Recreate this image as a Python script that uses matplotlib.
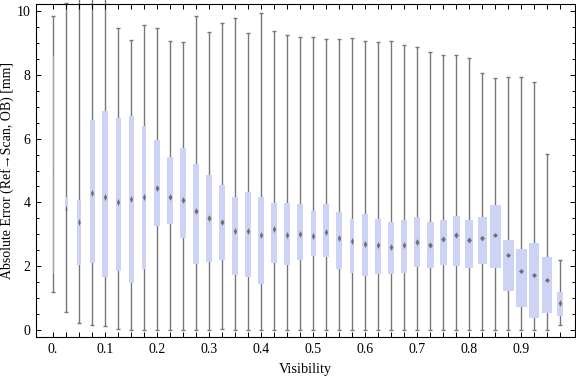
import numpy as np
import matplotlib
matplotlib.use('Agg')
import matplotlib.pyplot as plt
from matplotlib.path import Path

plt.rcParams['font.family'] = ['Liberation Serif', 'DejaVu Serif']

# Box positions (visibility bins)
visibility = [0.0, 0.025, 0.05, 0.075, 0.1, 0.125, 0.15, 0.175, 0.2, 0.225,
              0.25, 0.275, 0.3, 0.325, 0.35, 0.375, 0.4, 0.425, 0.45, 0.475,
              0.5, 0.525, 0.55, 0.575, 0.6, 0.625, 0.65, 0.675, 0.7, 0.725,
              0.75, 0.775, 0.8, 0.825, 0.85, 0.875, 0.9, 0.925, 0.95, 0.975]

# Box-whisker statistics (mm)
whisker_lo = [1.19, 0.56, 0.21, 0.16, 0.13, 0.02, 0.0, 0.0, 0.0, 0.0,
              0.0, 0.0, 0.0, 0.03, 0.0, 0.0, 0.0, 0.0, 0.0, 0.0,
              0.0, 0.0, 0.0, 0.0, 0.0, 0.0, 0.0, 0.0, 0.0, 0.0,
              0.0, 0.0, 0.0, 0.0, 0.0, 0.0, 0.0, 0.0, 0.0, 0.16]
q1 = [1.78, 3.87, 2.03, 2.11, 1.67, 1.86, 1.48, 1.90, 3.27, 3.33,
      2.89, 2.08, 2.14, 2.18, 1.73, 1.67, 1.45, 2.09, 2.03, 2.18,
      2.33, 2.29, 1.90, 1.80, 1.70, 1.76, 1.76, 1.80, 1.97, 1.95,
      2.05, 2.02, 1.95, 2.08, 1.95, 1.23, 0.73, 0.39, 0.54, 0.45]
median = [5.00, 3.78, 3.38, 4.28, 4.18, 4.02, 4.11, 4.18, 4.46, 4.16,
          4.08, 3.73, 3.50, 3.38, 3.09, 3.10, 2.97, 3.18, 2.99, 3.01,
          2.94, 3.08, 2.88, 2.79, 2.70, 2.65, 2.59, 2.65, 2.75, 2.65,
          2.84, 2.97, 2.82, 2.88, 2.97, 2.34, 1.84, 1.73, 1.57, 0.86]
q3 = [8.60, 4.16, 4.08, 6.58, 6.86, 6.65, 6.71, 6.39, 5.96, 5.42,
      5.71, 5.20, 4.86, 4.55, 4.17, 4.33, 4.17, 3.98, 3.98, 3.95,
      3.73, 3.95, 3.70, 3.48, 3.64, 3.48, 3.39, 3.45, 3.54, 3.39,
      3.45, 3.57, 3.45, 3.54, 3.92, 2.82, 2.54, 2.73, 2.28, 1.19]
whisker_hi = [9.84, 10.25, 10.40, 10.60, 10.60, 9.46, 9.08, 9.55, 9.46, 9.05,
              9.02, 9.84, 9.33, 9.61, 9.77, 9.30, 9.93, 9.36, 9.24, 9.20,
              9.18, 9.11, 9.11, 9.14, 9.05, 9.02, 9.05, 8.92, 8.86, 8.70,
              8.61, 8.61, 8.52, 8.05, 7.89, 7.92, 7.92, 7.76, 5.51, 2.19]
# relative box width (bin weight)
rel_width = [0.2, 0.6, 0.8, 1.0, 1.05, 1.0, 1.0, 0.95, 1.2, 1.2,
             1.2, 1.3, 1.25, 1.25, 1.05, 1.05, 1.05, 1.05, 1.05, 1.05,
             1.0, 1.05, 1.05, 0.95, 1.15, 1.1, 1.1, 1.1, 1.25, 1.4,
             1.4, 1.4, 1.6, 1.8, 2.2, 2.2, 2.2, 2.05, 2.0, 1.05]

x_ticks = [0.0, 0.1, 0.2, 0.3, 0.4, 0.5, 0.6, 0.7, 0.8, 0.9]
x_tick_labels = ['0.', '0.1', '0.2', '0.3', '0.4', '0.5', '0.6', '0.7', '0.8', '0.9']
y_ticks = [0, 2, 4, 6, 8, 10]

BOX_COLOR = '#cdd3f5'
WHISKER_COLOR = '#777777'
MEDIAN_COLOR = '#656565'

fig = plt.figure(figsize=(5.76, 3.77), dpi=100)
ax = fig.add_axes([36 / 576, 40 / 377, 539 / 576, 333 / 377])

px_per_unit = 520.0  # pixels per visibility unit
for i, v in enumerate(visibility):
    w_px = 5.0 * rel_width[i]
    w = w_px / px_per_unit
    # whisker + caps
    ax.plot([v, v], [whisker_lo[i], whisker_hi[i]], color=WHISKER_COLOR,
            lw=1.0, zorder=1, clip_on=False, solid_capstyle='butt')
    ax.plot([v, v], [whisker_lo[i], whisker_hi[i]], ls='none', marker='_',
            ms=2.8, mew=1.0, color=WHISKER_COLOR, zorder=1, clip_on=False)
    # box
    ax.bar(v, q3[i] - q1[i], bottom=q1[i], width=w, color=BOX_COLOR,
           edgecolor='none', zorder=2, alpha=0.5 if i == 0 else 1.0)
    # median diamond
    mw = min(0.65 * w_px, 5.0)
    mh = max(9.0 - 0.4 * w_px, 5.0)
    a = (mw / 2) / (mh / 2)
    diamond = Path([(0, 1), (a, 0), (0, -1), (-a, 0), (0, 1)],
                   [Path.MOVETO, Path.LINETO, Path.LINETO, Path.LINETO, Path.CLOSEPOLY])
    ax.plot([v], [median[i]], ls='none', marker=diamond, ms=mh * 0.72,
            color=MEDIAN_COLOR, mew=0, zorder=3, alpha=0.35 if i == 0 else 0.9)

ax.set_xlim(-0.0327, 1.0038)
ax.set_ylim(-0.22, 10.22)

ax.set_xticks(x_ticks)
ax.set_xticklabels(x_tick_labels)
ax.set_xticks(visibility, minor=True)
ax.set_yticks(y_ticks)
ax.set_yticks(np.arange(0, 10.01, 0.5), minor=True)

ax.tick_params(which='both', direction='in', top=True, right=True,
               labelsize=10, width=0.7, color='black')
ax.tick_params(axis='x', which='both', length=3.5, pad=4)
ax.tick_params(axis='y', which='major', length=3.8, pad=4)
ax.tick_params(axis='y', which='minor', length=2.0)
for s in ax.spines.values():
    s.set_linewidth(0.8)

ax.set_xlabel('Visibility', fontsize=10.3, labelpad=5)
ax.set_ylabel('Absolute Error (Ref\u2192Scan, OB) [mm]', fontsize=10)
ax.yaxis.set_label_coords(-0.04, 0.5)

fig.savefig('out.png', dpi=100)
